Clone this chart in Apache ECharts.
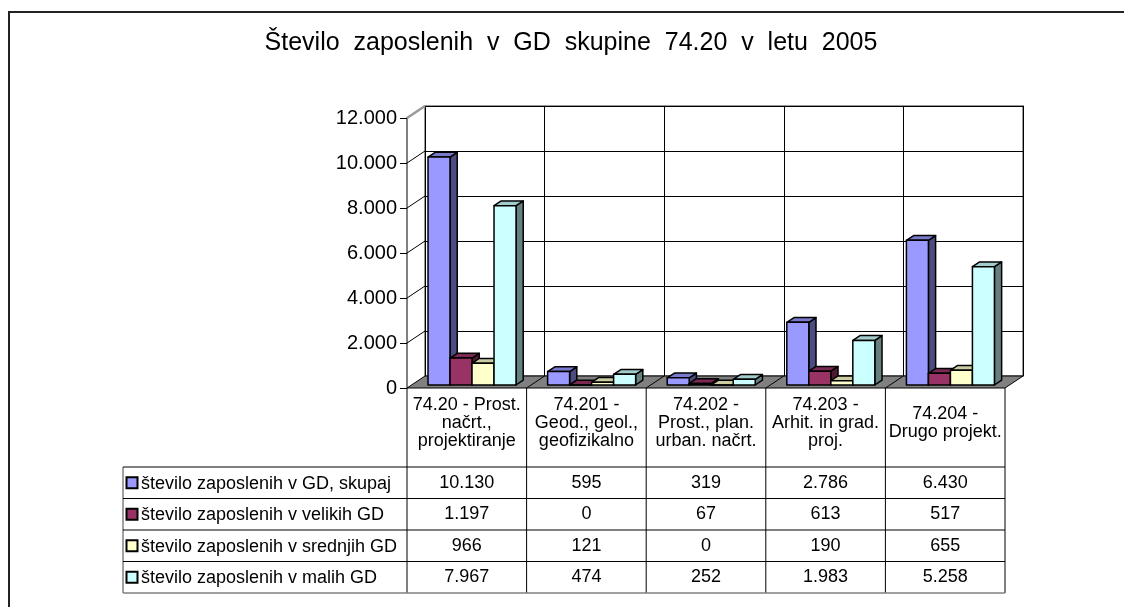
<!DOCTYPE html>
<html>
<head>
<meta charset="utf-8">
<title>Število zaposlenih v GD skupine 74.20</title>
<script src="https://cdn.jsdelivr.net/npm/echarts@6/dist/echarts.min.js"></script>
<style>
  html, body { margin: 0; padding: 0; background: #fff; }
  #chart { width: 1124px; height: 607px; }
</style>
</head>
<body>
<div id="chart"></div>
<script>
var categories = [
  '74.20 - Prost.\nnačrt.,\nprojektiranje',
  '74.201 -\nGeod., geol.,\ngeofizikalno',
  '74.202 -\nProst., plan.\nurban. načrt.',
  '74.203 -\nArhit. in grad.\nproj.',
  '74.204 -\nDrugo projekt.'
];
var seriesNames = [
  'število zaposlenih v GD, skupaj',
  'število zaposlenih v velikih GD',
  'število zaposlenih v srednjih GD',
  'število zaposlenih v malih GD'
];
var skupaj = [10130, 595, 319, 2786, 6430];
var veliki = [1197, 0, 67, 613, 517];
var srednji = [966, 121, 0, 190, 655];
var mali = [7967, 474, 252, 1983, 5258];
var yTicks = [0, 2000, 4000, 6000, 8000, 10000, 12000];

var seriesValues = [skupaj, veliki, srednji, mali];
var frontColors = ['#9999FF', '#993366', '#FFFFCC', '#CCFFFF'];
var sideColors = ['#4C4C80', '#4D1A33', '#808066', '#668080'];
var topColors = ['#7A7ACC', '#7A2952', '#CCCCA3', '#A3CCCC'];

var FONT = '"Liberation Sans", Arial, sans-serif';
var DEPTH_X = 18, DEPTH_Y = -12;

// plot frame (front plane)
var gLeft = 407, gRight = 119, gTop = 118, gBottom = 219;

function fmt(v) {
  return String(v).replace(/\B(?=(\d{3})+(?!\d))/g, '.');
}

var chart = echarts.init(document.getElementById('chart'));

function barRenderer(si) {
  return function (params, api) {
    var cat = api.value(0), val = api.value(1);
    var top = api.coord([cat, val]);
    var base = api.coord([cat, 0]);
    var bw = api.size([1, 0])[0];
    var w = bw * 0.184;
    var fx = DEPTH_X * 0.25, fy = DEPTH_Y * 0.25;
    var dx = DEPTH_X * 0.4, dy = DEPTH_Y * 0.4;
    var x0 = top[0] - bw / 2 + bw * 0.138 + si * w + fx;
    var x1 = x0 + w;
    var yt = top[1] + fy, yb = base[1] + fy;
    var stroke = { stroke: '#000', lineWidth: 1.5, lineJoin: 'round' };
    return {
      type: 'group',
      children: [
        { type: 'polygon', shape: { points: [[x1, yb], [x1 + dx, yb + dy], [x1 + dx, yt + dy], [x1, yt]] },
          style: Object.assign({ fill: sideColors[si] }, stroke) },
        { type: 'polygon', shape: { points: [[x0, yt], [x0 + dx, yt + dy], [x1 + dx, yt + dy], [x1, yt]] },
          style: Object.assign({ fill: topColors[si] }, stroke) },
        { type: 'rect', shape: { x: x0, y: yt, width: w, height: yb - yt },
          style: Object.assign({ fill: frontColors[si] }, stroke) }
      ]
    };
  };
}

// floor + left wall lines
function floorRenderer(params, api) {
  var bw = api.size([1, 0])[0];
  var first = api.coord([0, 0]);
  var xl = first[0] - bw / 2;
  var xr = xl + bw * categories.length;
  var y0 = first[1];
  var kids = [{
    type: 'polygon',
    shape: { points: [[xl, y0], [xr, y0], [xr + DEPTH_X, y0 + DEPTH_Y], [xl + DEPTH_X, y0 + DEPTH_Y]] },
    style: { fill: '#808080', stroke: '#000', lineWidth: 1 }
  }];
  for (var i = 1; i < categories.length; i++) {
    var x = xl + bw * i;
    kids.push({ type: 'line', shape: { x1: x, y1: y0, x2: x + DEPTH_X, y2: y0 + DEPTH_Y },
      style: { stroke: '#000', lineWidth: 1 } });
  }
  yTicks.forEach(function (t, k) {
    if (t === 0) return;
    var y = api.coord([0, t])[1];
    var last = k === yTicks.length - 1;
    kids.push({ type: 'line', shape: { x1: xl, y1: y, x2: xl + DEPTH_X, y2: y + DEPTH_Y },
      style: { stroke: last ? '#999' : '#000', lineWidth: last ? 2.5 : 1 } });
  });
  return { type: 'group', children: kids };
}

// data table under the plot
function buildTable() {
  var colW = (1124 - gLeft - gRight) / categories.length;
  var headTop = 607 - gBottom, headBottom = 467, rowH = 31.5;
  var tableLeft = 123;
  var tableBottom = headBottom + rowH * seriesNames.length;
  var els = [];
  var ls = { stroke: '#000', lineWidth: 1 };
  for (var c = 0; c <= categories.length; c++) {
    var x = gLeft + c * colW;
    els.push({ type: 'line', shape: { x1: x, y1: headTop, x2: x, y2: tableBottom }, style: ls });
  }
  els.push({ type: 'line', shape: { x1: tableLeft, y1: headBottom, x2: tableLeft, y2: tableBottom },
    style: { stroke: '#808080', lineWidth: 1.5 } });
  for (var r = 0; r <= seriesNames.length; r++) {
    var y = headBottom + r * rowH;
    els.push({ type: 'line', shape: { x1: tableLeft, y1: y, x2: gLeft + colW * categories.length, y2: y },
      style: r === seriesNames.length ? { stroke: '#808080', lineWidth: 1.5 } : ls });
  }
  categories.forEach(function (name, c) {
    els.push({ type: 'text', x: gLeft + (c + 0.5) * colW, y: 423,
      style: { text: name, font: '18px ' + FONT, fill: '#000', align: 'center',
        verticalAlign: 'middle', lineHeight: 18 } });
  });
  seriesNames.forEach(function (name, s) {
    var yc = headBottom + (s + 0.5) * rowH;
    els.push({ type: 'rect', shape: { x: 126.5, y: yc - 5.5, width: 11, height: 11 },
      style: { fill: frontColors[s], stroke: '#000', lineWidth: 2 } });
    els.push({ type: 'text', x: 141, y: yc + 1,
      style: { text: name, font: '18px ' + FONT, fill: '#000', align: 'left', verticalAlign: 'middle' } });
    seriesValues[s].forEach(function (v, c) {
      els.push({ type: 'text', x: gLeft + (c + 0.5) * colW, y: yc,
        style: { text: fmt(v), font: '18px ' + FONT, fill: '#000', align: 'center', verticalAlign: 'middle' } });
    });
  });
  return els;
}

var series = [{
  type: 'custom',
  xAxisIndex: 0, yAxisIndex: 0,
  renderItem: floorRenderer,
  data: [[0, 0]],
  silent: true,
  z: 1
}];
seriesValues.forEach(function (vals, si) {
  series.push({
    name: seriesNames[si],
    type: 'custom',
    xAxisIndex: 0, yAxisIndex: 0,
    renderItem: barRenderer(si),
    data: vals.map(function (v, i) { return [i, v]; }),
    encode: { x: 0, y: 1 },
    z: 3
  });
});

var option = {
  animation: false,
  backgroundColor: '#fff',
  title: {
    text: 'Število  zaposlenih  v  GD  skupine  74.20  v  letu  2005',
    left: 571,
    top: 31,
    textAlign: 'center',
    padding: 0,
    textStyle: { fontFamily: FONT, fontSize: 25, fontWeight: 'normal', color: '#000' }
  },
  grid: [
    { left: gLeft, right: gRight, top: gTop, bottom: gBottom },
    { left: gLeft + DEPTH_X, right: gRight - DEPTH_X, top: gTop + DEPTH_Y, bottom: gBottom - DEPTH_Y,
      show: true, borderColor: '#999', borderWidth: 2, backgroundColor: 'transparent' }
  ],
  xAxis: [
    { type: 'category', gridIndex: 0, data: categories, axisLine: { show: false },
      axisTick: { show: false }, axisLabel: { show: false }, splitLine: { show: false } },
    { type: 'category', gridIndex: 1, data: categories, axisLine: { show: false },
      axisTick: { show: false }, axisLabel: { show: false },
      splitLine: { show: true, interval: 0, lineStyle: { color: '#000', width: 1 } } }
  ],
  yAxis: [
    { type: 'value', gridIndex: 0, min: 0, max: 12000, interval: 2000,
      axisLine: { show: true, lineStyle: { color: '#808080', width: 2 } },
      axisTick: { show: true, length: 7, lineStyle: { color: '#000' } },
      axisLabel: { margin: 10, fontFamily: FONT, fontSize: 20, color: '#000', formatter: fmt },
      splitLine: { show: false } },
    { type: 'value', gridIndex: 1, min: 0, max: 12000, interval: 2000,
      axisLine: { show: false }, axisTick: { show: false }, axisLabel: { show: false },
      splitLine: { show: true, lineStyle: { color: '#000', width: 1 } } }
  ],
  graphic: [
    { type: 'rect', shape: { x: 9, y: 12, width: 1200, height: 700 },
      style: { fill: 'none', stroke: '#222', lineWidth: 2 }, z: 10 }
  ].concat(buildTable()),
  series: series
};

chart.setOption(option);
</script>
</body>
</html>
